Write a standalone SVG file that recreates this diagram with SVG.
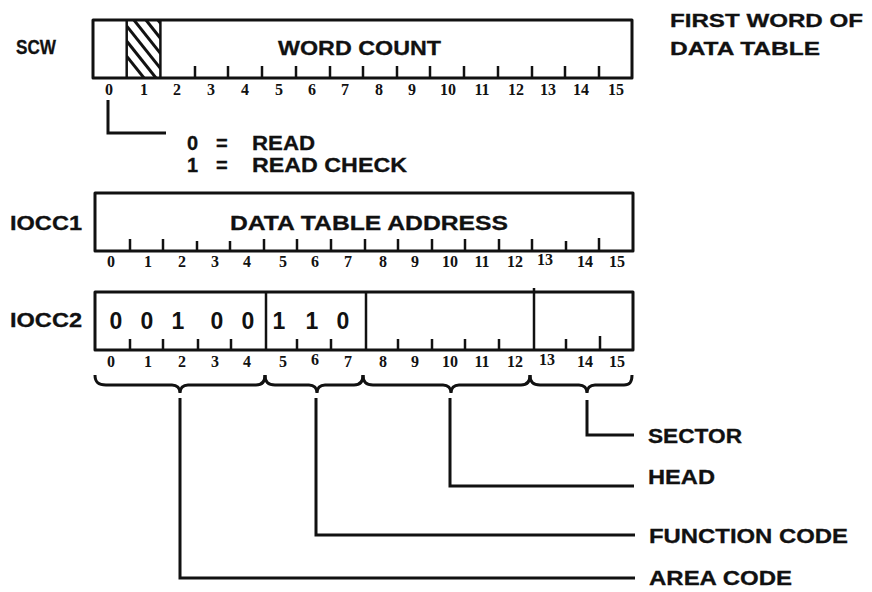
<svg xmlns="http://www.w3.org/2000/svg" width="872" height="592" viewBox="0 0 872 592">
  <style>
    .box { fill: none; stroke: #111; stroke-width: 3; stroke-linejoin: round; }
    .tick { stroke: #111; stroke-width: 2.5; }
    .div { stroke: #111; stroke-width: 2.5; }
    .lbl { font-family: "Liberation Sans", Arial, sans-serif; font-weight: bold; fill: #111; stroke: #111; stroke-width: 0.3; }
    .num { font-family: "Liberation Serif", "Times New Roman", serif; font-weight: bold; font-size: 16px; fill: #111; text-anchor: middle; }
    .dig { font-family: "Liberation Sans", Arial, sans-serif; font-weight: bold; font-size: 23px; fill: #111; text-anchor: middle; }
    .conn { fill: none; stroke: #111; stroke-width: 3; stroke-linejoin: miter; }
    .hatch { stroke: #111; stroke-width: 3; }
  </style>
  <defs>
    <clipPath id="bit1clip">
      <rect x="127" y="20" width="34" height="58"/>
    </clipPath>
  </defs>
  <rect width="872" height="592" fill="#fff"/>

  <!-- Status control word -->
  <g id="scw">
    <text class="lbl" x="16" y="54" font-size="21" textLength="40" lengthAdjust="spacingAndGlyphs">SCW</text>
    <rect class="box" x="93" y="20" width="539" height="58"/>
    <g clip-path="url(#bit1clip)">
      <line class="hatch" x1="82" y1="0" x2="152" y2="88"/>
      <line class="hatch" x1="94" y1="0" x2="164" y2="88"/>
      <line class="hatch" x1="106" y1="0" x2="176" y2="88"/>
      <line class="hatch" x1="118" y1="0" x2="188" y2="88"/>
      <line class="hatch" x1="130" y1="0" x2="200" y2="88"/>
      <line class="hatch" x1="142" y1="0" x2="212" y2="88"/>
      <line class="hatch" x1="154" y1="0" x2="224" y2="88"/>
    </g>
    <line class="div" x1="126.7" y1="20" x2="126.7" y2="78"/>
    <line class="div" x1="160.4" y1="20" x2="160.4" y2="78"/>
    <g class="tick">
      <line x1="195" y1="66" x2="195" y2="78"/>
      <line x1="228" y1="66" x2="228" y2="78"/>
      <line x1="262" y1="66" x2="262" y2="78"/>
      <line x1="296" y1="66" x2="296" y2="78"/>
      <line x1="330" y1="66" x2="330" y2="78"/>
      <line x1="363" y1="66" x2="363" y2="78"/>
      <line x1="397" y1="66" x2="397" y2="78"/>
      <line x1="430" y1="66" x2="430" y2="78"/>
      <line x1="464" y1="66" x2="464" y2="78"/>
      <line x1="498" y1="66" x2="498" y2="78"/>
      <line x1="532" y1="66" x2="532" y2="78"/>
      <line x1="565" y1="66" x2="565" y2="78"/>
      <line x1="599" y1="66" x2="599" y2="78"/>
    </g>
    <text class="lbl" x="278" y="55" font-size="20" textLength="163" lengthAdjust="spacingAndGlyphs">WORD COUNT</text>
    <g class="num">
      <text x="109" y="95">0</text><text x="144" y="95">1</text><text x="177" y="95">2</text><text x="211" y="95">3</text>
      <text x="245" y="95">4</text><text x="279" y="95">5</text><text x="312" y="95">6</text><text x="345" y="95">7</text>
      <text x="379" y="95">8</text><text x="412" y="95">9</text><text x="448" y="95">10</text><text x="482" y="95">11</text>
      <text x="516" y="95">12</text><text x="548" y="95">13</text><text x="581" y="95">14</text><text x="616" y="95">15</text>
    </g>
  </g>

  <g id="first-word-note">
    <text class="lbl" x="670" y="27" font-size="18" textLength="193" lengthAdjust="spacingAndGlyphs">FIRST WORD OF</text>
    <text class="lbl" x="670" y="55" font-size="18" textLength="150" lengthAdjust="spacingAndGlyphs">DATA TABLE</text>
  </g>

  <g id="read-mode">
    <text class="lbl" x="187" y="150" font-size="20">0</text>
    <text class="lbl" x="216" y="150" font-size="20">=</text>
    <text class="lbl" x="252" y="150" font-size="20" textLength="63" lengthAdjust="spacingAndGlyphs">READ</text>
    <text class="lbl" x="187" y="172" font-size="20">1</text>
    <text class="lbl" x="216" y="172" font-size="20">=</text>
    <text class="lbl" x="252" y="172" font-size="20" textLength="155" lengthAdjust="spacingAndGlyphs">READ CHECK</text>
  </g>

  <!-- Command words -->
  <g id="iocc1">
    <text class="lbl" x="10" y="230" font-size="21" textLength="72" lengthAdjust="spacingAndGlyphs">IOCC1</text>
    <rect class="box" x="95" y="193" width="538" height="58"/>
    <g class="tick">
      <line x1="130" y1="239" x2="130" y2="251"/>
      <line x1="163" y1="239" x2="163" y2="251"/>
      <line x1="197" y1="241" x2="197" y2="251"/>
      <line x1="230" y1="241" x2="230" y2="251"/>
      <line x1="264" y1="239" x2="264" y2="251"/>
      <line x1="297" y1="239" x2="297" y2="251"/>
      <line x1="331" y1="239" x2="331" y2="251"/>
      <line x1="365" y1="239" x2="365" y2="251"/>
      <line x1="398" y1="239" x2="398" y2="251"/>
      <line x1="432" y1="239" x2="432" y2="251"/>
      <line x1="465" y1="239" x2="465" y2="251"/>
      <line x1="499" y1="239" x2="499" y2="251"/>
      <line x1="532" y1="239" x2="532" y2="251"/>
      <line x1="566" y1="241" x2="566" y2="251"/>
      <line x1="599" y1="238" x2="599" y2="251"/>
    </g>
    <text class="lbl" x="230" y="230" font-size="21" textLength="278" lengthAdjust="spacingAndGlyphs">DATA TABLE ADDRESS</text>
    <g class="num">
      <text x="111" y="267">0</text><text x="148" y="267">1</text><text x="182" y="267">2</text><text x="215" y="267">3</text>
      <text x="247" y="267">4</text><text x="283" y="267">5</text><text x="315" y="267">6</text><text x="348" y="267">7</text>
      <text x="383" y="267">8</text><text x="415" y="267">9</text><text x="450" y="267">10</text><text x="482" y="267">11</text>
      <text x="515" y="267">12</text><text x="545" y="265">13</text><text x="585" y="267">14</text><text x="617" y="267">15</text>
    </g>
  </g>

  <g id="iocc2">
    <text class="lbl" x="10" y="327" font-size="21" textLength="72" lengthAdjust="spacingAndGlyphs">IOCC2</text>
    <rect class="box" x="95" y="292" width="538" height="58"/>
    <line class="div" x1="266" y1="292" x2="266" y2="350"/>
    <line class="div" x1="366" y1="292" x2="366" y2="350"/>
    <line class="div" x1="534" y1="288" x2="534" y2="350"/>
    <g class="tick">
      <line x1="130" y1="339" x2="130" y2="350"/>
      <line x1="163" y1="339" x2="163" y2="350"/>
      <line x1="198" y1="339" x2="198" y2="350"/>
      <line x1="231" y1="339" x2="231" y2="350"/>
      <line x1="297" y1="339" x2="297" y2="350"/>
      <line x1="331" y1="339" x2="331" y2="350"/>
      <line x1="398" y1="339" x2="398" y2="350"/>
      <line x1="432" y1="339" x2="432" y2="350"/>
      <line x1="465" y1="339" x2="465" y2="350"/>
      <line x1="499" y1="339" x2="499" y2="350"/>
      <line x1="566" y1="339" x2="566" y2="350"/>
      <line x1="600" y1="336" x2="600" y2="350"/>
    </g>
    <g class="dig">
      <text x="116" y="329">0</text><text x="147" y="329">0</text><text x="178" y="329">1</text>
      <text x="217" y="329">0</text><text x="248" y="329">0</text>
      <text x="279" y="329">1</text><text x="312" y="329">1</text><text x="343" y="329">0</text>
    </g>
    <g class="num">
      <text x="111" y="367">0</text><text x="148" y="367">1</text><text x="182" y="367">2</text><text x="215" y="367">3</text>
      <text x="247" y="367">4</text><text x="283" y="367">5</text><text x="315" y="365">6</text><text x="348" y="367">7</text>
      <text x="383" y="367">8</text><text x="415" y="367">9</text><text x="450" y="367">10</text><text x="482" y="367">11</text>
      <text x="515" y="367">12</text><text x="547" y="365">13</text><text x="585" y="367">14</text><text x="617" y="367">15</text>
    </g>
  </g>

  <!-- Field braces and leader lines -->
  <g id="connectors">
    <path class="conn" d="M95,375 C95,382 98,385 106,385 L172,385 C177,385 180,388 180,393 C180,388 183,385 188,385 L256,385 C262,385 265,382 265,375"/>
    <path class="conn" d="M265,375 C265,382 268,385 275,385 L309,385 C314,385 317,388 317,393 C317,388 320,385 325,385 L354,385 C360,385 363,382 363,375"/>
    <path class="conn" d="M363,375 C363,382 366,385 373,385 L443,385 C448,385 451,388 451,393 C451,388 454,385 459,385 L521,385 C527,385 530,382 530,375"/>
    <path class="conn" d="M530,375 C530,382 533,385 540,385 L579,385 C584,385 587,388 587,393 C587,388 590,385 595,385 L624,385 C630,385 632,382 632,375"/>

    <polyline class="conn" points="108,100 108,133 166,133"/>
    <polyline class="conn" points="180,398 180,578 635,578"/>
    <polyline class="conn" points="316,398 316,535 635,535"/>
    <polyline class="conn" points="450,398 450,486 634,486"/>
    <polyline class="conn" points="587,400 587,435 634,435"/>
  </g>

  <g id="field-labels">
    <text class="lbl" x="648" y="443" font-size="21" textLength="94" lengthAdjust="spacingAndGlyphs">SECTOR</text>
    <text class="lbl" x="648" y="484" font-size="21" textLength="67" lengthAdjust="spacingAndGlyphs">HEAD</text>
    <text class="lbl" x="649" y="543" font-size="20" textLength="199" lengthAdjust="spacingAndGlyphs">FUNCTION CODE</text>
    <text class="lbl" x="649" y="585" font-size="20" textLength="143" lengthAdjust="spacingAndGlyphs">AREA CODE</text>
  </g>
</svg>
